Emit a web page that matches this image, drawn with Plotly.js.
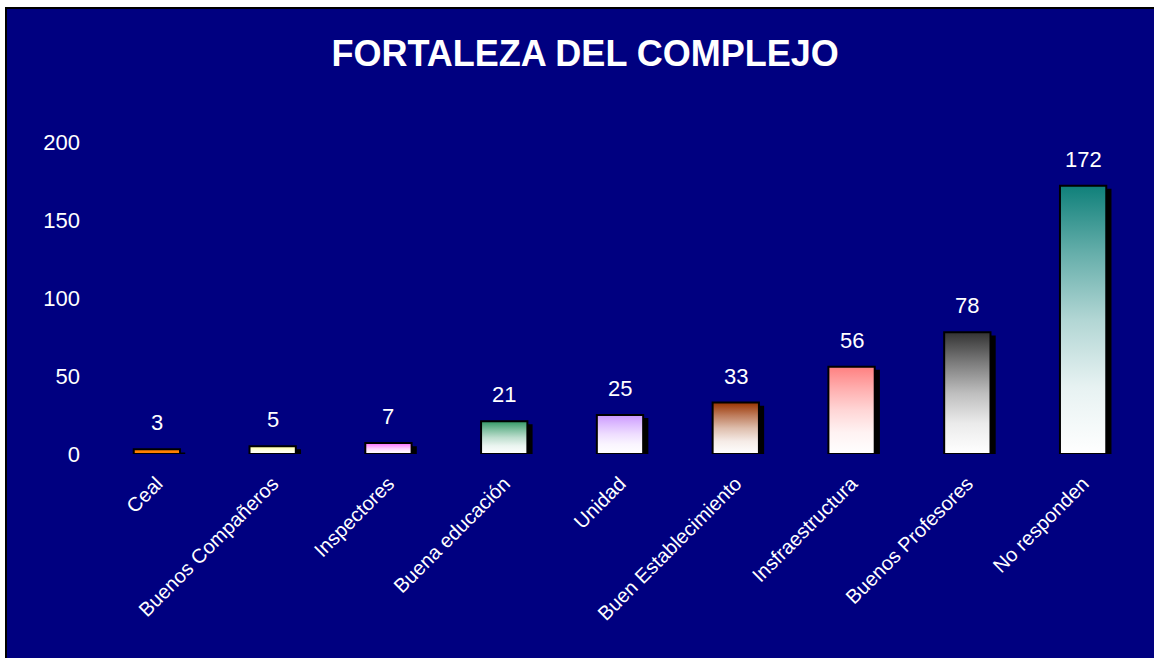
<!DOCTYPE html>
<html>
<head>
<meta charset="utf-8">
<script src="https://cdn.plot.ly/plotly-3.0.1.min.js"></script>
<style>
  html, body { margin: 0; padding: 0; background: #ffffff; width: 1154px; height: 658px; overflow: hidden; }
  #frame { position: absolute; left: 5px; top: 7px; width: 1149px; height: 651px;
           border-left: 2px solid #000; border-top: 2px solid #000; box-sizing: border-box; background: #000080; }
  #chart { width: 1147px; height: 649px; }
</style>
</head>
<body>
<div id="frame"><div id="chart"></div></div>
<script>
// ---- data ----
const categories = ["Ceal", "Buenos Compañeros", "Inspectores", "Buena educación", "Unidad",
                    "Buen Establecimiento", "Insfraestructura", "Buenos Profesores", "No responden"];
const values = [3, 5, 7, 21, 25, 33, 56, 78, 172];
const barColors = ["#FF8000", "#FFFF99", "#FF66FF", "#339966", "#CC99FF",
                   "#993300", "#FF8080", "#333333", "#0F807A"];
const yTickVals = [0, 50, 100, 150, 200];
const chartTitle = "FORTALEZA DEL COMPLEJO";

// ---- build ----
const idx = categories.map((_, i) => i);
const halfW = 0.2;
const FONT = '"Liberation Sans", Arial, sans-serif';

function mixWhite(hex, f) {
  const n = parseInt(hex.slice(1), 16);
  const c = [(n >> 16) & 255, (n >> 8) & 255, n & 255].map(v => Math.round(255 + (v - 255) * f));
  return 'rgb(' + c.join(',') + ')';
}
function gradScale(hex) {
  return [[0, '#FFFFFF'], [0.25, mixWhite(hex, 0.1)], [0.5, mixWhite(hex, 0.32)],
          [0.75, mixWhite(hex, 0.64)], [1, hex]];
}

const traces = [];
// shadow bars
traces.push({
  type: 'bar', x: idx, y: values, base: values.map(() => -2),
  width: 0.4, offset: -0.155,
  marker: { color: '#000000', line: { width: 0 } },
  hoverinfo: 'skip', showlegend: false
});
// gradient bars
values.forEach((v, i) => {
  traces.push({
    type: 'scatter', mode: 'lines',
    x: [i - halfW, i + halfW, i + halfW, i - halfW, i - halfW],
    y: [0, 0, v, v, 0],
    fill: 'toself',
    fillgradient: { type: 'vertical', colorscale: i === 0 ? [[0, barColors[i]], [1, barColors[i]]] : gradScale(barColors[i]) },
    line: { color: '#000000', width: 2 },
    hoverinfo: 'skip', showlegend: false
  });
});

const annotations = values.map((v, i) => ({
  x: i, y: v, xref: 'x', yref: 'y', text: String(v), showarrow: false,
  yanchor: 'bottom', yshift: 12, font: { family: FONT, size: 22, color: '#FFFFFF' }
}));

const layout = {
  width: 1147, height: 649,
  paper_bgcolor: '#000080', plot_bgcolor: '#000080',
  margin: { l: 92, r: 13, t: 133, b: 204 },
  showlegend: false,
  title: { text: '<b>' + chartTitle + '</b>', x: 0.504, xanchor: 'center', y: 0.931, yanchor: 'middle',
           yref: 'container', font: { family: FONT, size: 36, color: '#FFFFFF' } },
  xaxis: {
    type: 'linear', range: [-0.5, categories.length - 0.5],
    tickmode: 'array', tickvals: idx, ticktext: categories, tickangle: -45,
    showgrid: false, zeroline: false, showline: false, ticks: '',
    ticklabelstandoff: 13,
    tickfont: { family: FONT, size: 20, color: '#FFFFFF' }, fixedrange: true
  },
  yaxis: {
    range: [0, 200], tickmode: 'array', tickvals: yTickVals,
    showgrid: false, zeroline: false, showline: false, ticks: '',
    ticklabelstandoff: 18,
    tickfont: { family: FONT, size: 22, color: '#FFFFFF' }, fixedrange: true
  },
  annotations: annotations
};

Plotly.newPlot('chart', traces, layout, { displayModeBar: false, staticPlot: true });
</script>
</body>
</html>
